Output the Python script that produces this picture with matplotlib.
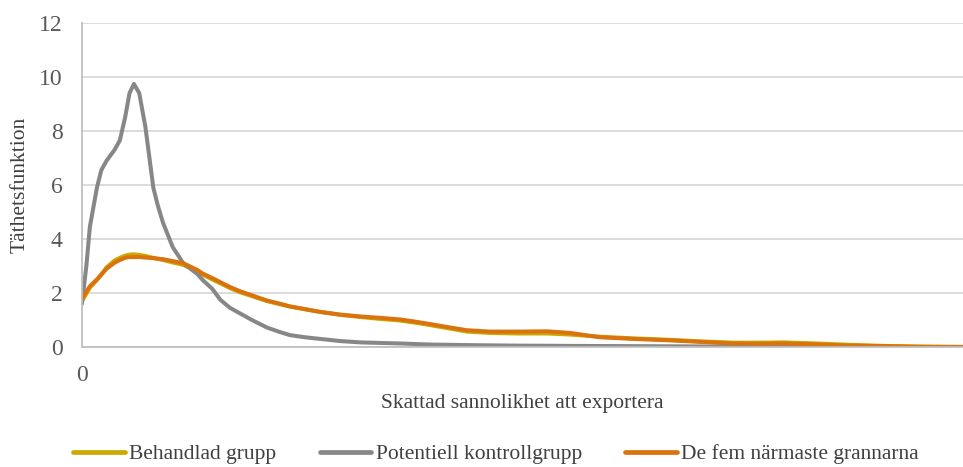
import matplotlib.pyplot as plt

plt.rcParams['font.family'] = ['Liberation Serif', 'DejaVu Serif']

# data (x = estimated probability, scaled 0..1)
x = [0.000, 0.005, 0.009, 0.017, 0.022, 0.028, 0.037, 0.043, 0.049, 0.054,
     0.059, 0.065, 0.072, 0.077, 0.081, 0.086, 0.092, 0.103, 0.115, 0.131,
     0.137, 0.148, 0.157, 0.168, 0.179, 0.194, 0.210, 0.225, 0.236, 0.253,
     0.270, 0.293, 0.316, 0.338, 0.361, 0.378, 0.395, 0.418, 0.437, 0.463,
     0.494, 0.528, 0.554, 0.588, 0.625, 0.664, 0.701, 0.739, 0.770, 0.796,
     0.826, 0.872, 0.911, 0.952, 1.000]

behandlad = [1.70, 1.97, 2.20, 2.48, 2.68, 2.95, 3.20, 3.30, 3.38, 3.42,
             3.43, 3.41, 3.37, 3.33, 3.30, 3.26, 3.22, 3.13, 3.04, 2.80,
             2.68, 2.50, 2.36, 2.18, 2.03, 1.87, 1.70, 1.58, 1.50, 1.40,
             1.30, 1.19, 1.11, 1.04, 0.98, 0.90, 0.81, 0.68, 0.57, 0.52,
             0.50, 0.50, 0.46, 0.38, 0.32, 0.27, 0.21, 0.16, 0.16, 0.17,
             0.14, 0.08, 0.04, 0.01, 0.00]

kontroll = [1.60, 3.00, 4.45, 5.90, 6.55, 6.90, 7.30, 7.65, 8.50, 9.40,
            9.74, 9.40, 8.15, 6.90, 5.90, 5.25, 4.60, 3.70, 3.10, 2.70,
            2.48, 2.15, 1.75, 1.45, 1.25, 0.98, 0.72, 0.55, 0.44, 0.36,
            0.30, 0.22, 0.17, 0.15, 0.13, 0.11, 0.09, 0.08, 0.07, 0.06,
            0.05, 0.045, 0.04, 0.035, 0.03, 0.025, 0.02, 0.015, 0.01, 0.01,
            0.01, 0.005, 0.00, 0.00, 0.00]

grannar = [1.80, 2.05, 2.25, 2.50, 2.68, 2.90, 3.12, 3.22, 3.30, 3.33,
           3.33, 3.33, 3.31, 3.30, 3.29, 3.27, 3.25, 3.18, 3.10, 2.85,
           2.72, 2.55, 2.40, 2.22, 2.07, 1.90, 1.72, 1.60, 1.50, 1.40,
           1.30, 1.20, 1.13, 1.08, 1.02, 0.94, 0.85, 0.72, 0.62, 0.57,
           0.57, 0.58, 0.52, 0.36, 0.30, 0.25, 0.19, 0.13, 0.12, 0.13,
           0.10, 0.05, 0.03, 0.01, 0.00]

labels = ['Behandlad grupp', 'Potentiell kontrollgrupp', 'De fem närmaste grannarna']
colors = ['#CCA800', '#878787', '#D9730D']

fig = plt.figure(figsize=(9.63, 4.67), dpi=100)
ax = fig.add_axes([0.0851, 0.257, 0.9149, 0.694])

for ys, lab, col in zip([behandlad, kontroll, grannar], labels, colors):
    ax.plot(x, ys, color=col, lw=2.9, label=lab,
            solid_capstyle='round', solid_joinstyle='round')

ax.set_xlim(0, 1)
ax.set_ylim(0, 12)
ax.set_yticks(range(0, 13, 2))
ax.set_xticks([0])
ax.set_xticklabels(['0'])
ax.grid(axis='y', color='#D9D9D9', lw=1.3)
ax.set_axisbelow(True)
for s in ['top', 'right']:
    ax.spines[s].set_visible(False)
for s in ['left', 'bottom']:
    ax.spines[s].set_color('#BFBFBF')
    ax.spines[s].set_linewidth(1.3)
ax.tick_params(axis='both', length=0, labelsize=17, colors='#595959')
ax.tick_params(axis='y', pad=14)
ax.tick_params(axis='x', pad=13)

ax.set_ylabel('Täthetsfunktion', fontsize=15.5, color='#404040', labelpad=7)
ax.set_xlabel('Skattad sannolikhet att exportera', fontsize=15.5, color='#404040', labelpad=6)

leg = fig.legend(loc='lower center', bbox_to_anchor=(0.515, -0.036), ncol=3, frameon=False,
                 fontsize=15.5, handlelength=2.4, handletextpad=0.2, columnspacing=2.0)
for t in leg.get_texts():
    t.set_color('#404040')
for h in leg.get_lines():
    h.set_linewidth(3.4)

fig.savefig('out.png', dpi=100)
